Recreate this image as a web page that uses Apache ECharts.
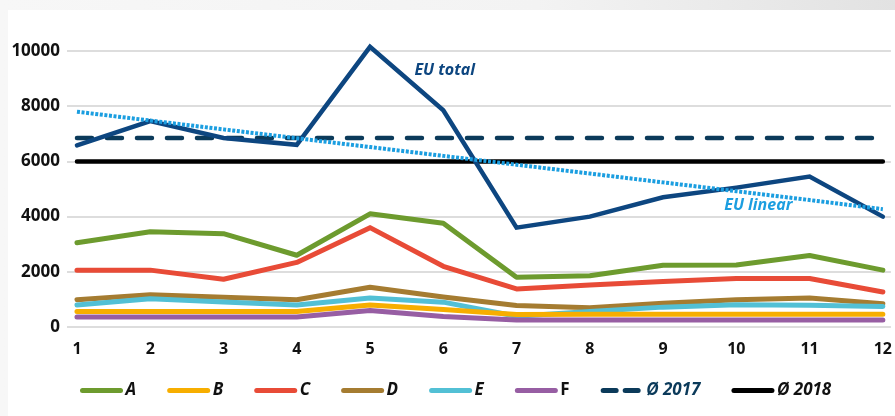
<!DOCTYPE html>
<html>
<head>
<meta charset="utf-8">
<script src="https://cdn.jsdelivr.net/npm/echarts@6/dist/echarts.min.js"></script>
<style>
  html, body { margin: 0; padding: 0; }
  body {
    width: 895px; height: 416px; position: relative; overflow: hidden;
    background: linear-gradient(to right, #f7f7f7 0%, #f3f3f3 60%, #e2e2e2 100%);
  }
  .paper { position: absolute; left: 8px; top: 10px; right: 0; bottom: 0; background: #fff; }
  #chart { position: absolute; left: 0; top: 0; width: 895px; height: 416px; }
</style>
</head>
<body>
<div class="paper"></div>
<div id="chart"></div>
<script>
// months on the x axis
const months = [1, 2, 3, 4, 5, 6, 7, 8, 9, 10, 11, 12];
const yTicks = [0, 2000, 4000, 6000, 8000, 10000];

const seriesA = [3050, 3450, 3380, 2600, 4100, 3760, 1800, 1860, 2240, 2250, 2590, 2060];
const seriesB = [560, 560, 560, 560, 800, 630, 450, 460, 460, 460, 460, 460];
const seriesC = [2060, 2060, 1730, 2340, 3600, 2200, 1380, 1520, 1650, 1760, 1760, 1270];
const seriesD = [990, 1170, 1080, 985, 1440, 1090, 780, 700, 860, 985, 1050, 840];
const seriesE = [800, 1020, 910, 800, 1050, 900, 390, 560, 720, 810, 790, 740];
const seriesF = [360, 360, 360, 360, 600, 380, 250, 250, 250, 250, 250, 250];
const euTotal = [6580, 7460, 6850, 6600, 10150, 7850, 3600, 4000, 4700, 5050, 5450, 4000];
const euLinear = [7800, 7480, 7160, 6840, 6520, 6200, 5880, 5560, 5240, 4920, 4600, 4270];
const avg2017 = [6850, 6850, 6850, 6850, 6850, 6850, 6850, 6850, 6850, 6850, 6850, 6850];
const avg2018 = [6000, 6000, 6000, 6000, 6000, 6000, 6000, 6000, 6000, 6000, 6000, 6000];

const FONT = '"Open Sans", "DejaVu Sans", sans-serif';

const pairs = (vals) => months.map((m, i) => [m, vals[i]]);

const line = (name, vals, color, extra) => Object.assign({
  name: name,
  type: 'line',
  data: pairs(vals),
  symbol: 'none',
  color: color,
  lineStyle: { color: color, width: 5, cap: 'round', join: 'round' },
  emphasis: { disabled: true },
}, extra || {});

const legendText = { fontFamily: FONT, fontSize: 17, fontWeight: 'bold', fontStyle: 'italic', color: '#111' };

const chart = echarts.init(document.getElementById('chart'));

chart.setOption({
  animation: false,
  grid: { left: 67, right: 0, top: 51, bottom: 89 },
  xAxis: {
    type: 'value',
    min: 0.864,
    max: 12.11,
    axisLine: { show: false },
    axisTick: { show: false },
    splitLine: { show: false },
    axisLabel: {
      customValues: months,
      margin: 14,
      fontFamily: FONT, fontSize: 16, fontWeight: 'bold', color: '#111',
    },
  },
  yAxis: {
    type: 'value',
    min: 0,
    max: 10000,
    interval: 2000,
    axisLine: { show: false },
    axisTick: { show: false },
    splitLine: { lineStyle: { color: '#d2d2d2', width: 1.5 } },
    axisLabel: {
      margin: 7,
      formatter: (v) => String(v),
      fontFamily: FONT, fontSize: 17, fontWeight: 'bold', color: '#111',
    },
  },
  legend: {
    left: 75,
    top: 377,
    itemWidth: 38,
    itemHeight: 14,
    itemGap: 31,
    itemStyle: { opacity: 0 },
    lineStyle: { width: 5, cap: 'round' },
    textStyle: legendText,
    data: [
      { name: 'A' }, { name: 'B' }, { name: 'C' }, { name: 'D' }, { name: 'E' },
      { name: 'F', textStyle: { fontStyle: 'normal' } },
      { name: 'Ø 2017', lineStyle: { type: [13, 9], width: 5, cap: 'round' }, textStyle: { color: '#0b3a5a' } },
      { name: 'Ø 2018' },
    ],
  },
  series: [
    line('A', seriesA, '#6d9b2e'),
    line('C', seriesC, '#e84b37'),
    line('D', seriesD, '#a57c31'),
    line('E', seriesE, '#52c0d5'),
    line('B', seriesB, '#f7ae00'),
    line('F', seriesF, '#975ea3'),
    line('Ø 2018', avg2018, '#000000', {
      lineStyle: { color: '#000000', width: 4.5, cap: 'round' },
    }),
    line('Ø 2017', avg2017, '#0b3a5a', {
      lineStyle: { color: '#0b3a5a', width: 4.5, type: [15, 15], cap: 'round' },
    }),
    line('EU total', euTotal, '#0d4680', {
      clip: false,
      lineStyle: { color: '#0d4680', width: 4.5, cap: 'round', join: 'miter' },
      markPoint: {
        symbol: 'circle', symbolSize: 0, silent: true,
        label: {
          show: true, position: 'inside', formatter: 'EU total',
          fontFamily: FONT, fontSize: 16, fontWeight: 'bold', fontStyle: 'italic', color: '#0d4680',
        },
        data: [{ coord: [6.02, 9310] }],
      },
    }),
    line('EU linear', euLinear, '#1b9ee0', {
      lineStyle: { color: '#1b9ee0', width: 4, type: [3, 1.6] },
      markPoint: {
        symbol: 'circle', symbolSize: 0, silent: true,
        label: {
          show: true, position: 'inside', formatter: 'EU linear',
          fontFamily: FONT, fontSize: 16, fontWeight: 'bold', fontStyle: 'italic', color: '#1b9ee0',
        },
        data: [{ coord: [10.3, 4420] }],
      },
    }),
  ],
});
</script>
</body>
</html>
